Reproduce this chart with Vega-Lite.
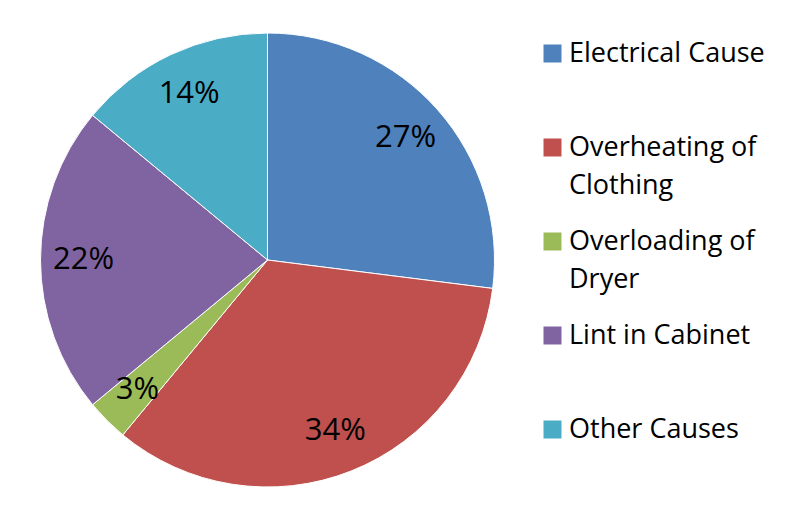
{
  "$schema": "https://vega.github.io/schema/vega-lite/v6.json",
  "width": 525,
  "height": 510,
  "autosize": {"type": "none"},
  "padding": {"left": 5, "top": 5, "right": 263, "bottom": 0},
  "background": "white",
  "config": {
    "view": {"stroke": null},
    "style": {"guide-label": {"lineHeight": 38}}
  },
  "data": {
    "values": [
      {"cause": "Electrical Cause", "pct": 27, "label": "27%", "order": 1},
      {"cause": "Overheating of Clothing", "pct": 34, "label": "34%", "order": 2},
      {"cause": "Overloading of Dryer", "pct": 3, "label": "3%", "order": 3},
      {"cause": "Lint in Cabinet", "pct": 22, "label": "22%", "order": 4},
      {"cause": "Other Causes", "pct": 14, "label": "14%", "order": 5}
    ]
  },
  "encoding": {
    "theta": {"field": "pct", "type": "quantitative", "stack": true},
    "order": {"field": "order", "type": "quantitative"},
    "color": {
      "field": "cause",
      "type": "nominal",
      "scale": {
        "domain": ["Electrical Cause", "Overheating of Clothing", "Overloading of Dryer", "Lint in Cabinet", "Other Causes"],
        "range": ["#4F81BD", "#C0504D", "#9BBB59", "#8064A2", "#4BACC6"]
      },
      "legend": {
        "orient": "none",
        "legendX": 534,
        "legendY": 35,
        "title": null,
        "symbolType": "square",
        "symbolSize": 324,
        "symbolStrokeWidth": 0,
        "symbolOpacity": 1,
        "labelFont": "Open Sans",
        "labelFontSize": 27,
        "labelColor": "black",
        "labelOffset": 3,
        "labelLimit": 300,
        "gridAlign": "all",
        "rowPadding": 28,
        "labelExpr": "datum.label == 'Overheating of Clothing' ? ['Overheating of', 'Clothing'] : datum.label == 'Overloading of Dryer' ? ['Overloading of', 'Dryer'] : datum.label",
        "encode": {"labels": {"enter": {"lineHeight": {"value": 38}}, "update": {"lineHeight": {"value": 38}}}}
      }
    }
  },
  "layer": [
    {"mark": {"type": "arc", "outerRadius": 227, "stroke": "white", "strokeWidth": 1}},
    {
      "mark": {"type": "text", "radius": 184, "font": "Open Sans", "fontSize": 31, "color": "black"},
      "encoding": {"text": {"field": "label"}, "color": {"value": "black"}}
    }
  ]
}
